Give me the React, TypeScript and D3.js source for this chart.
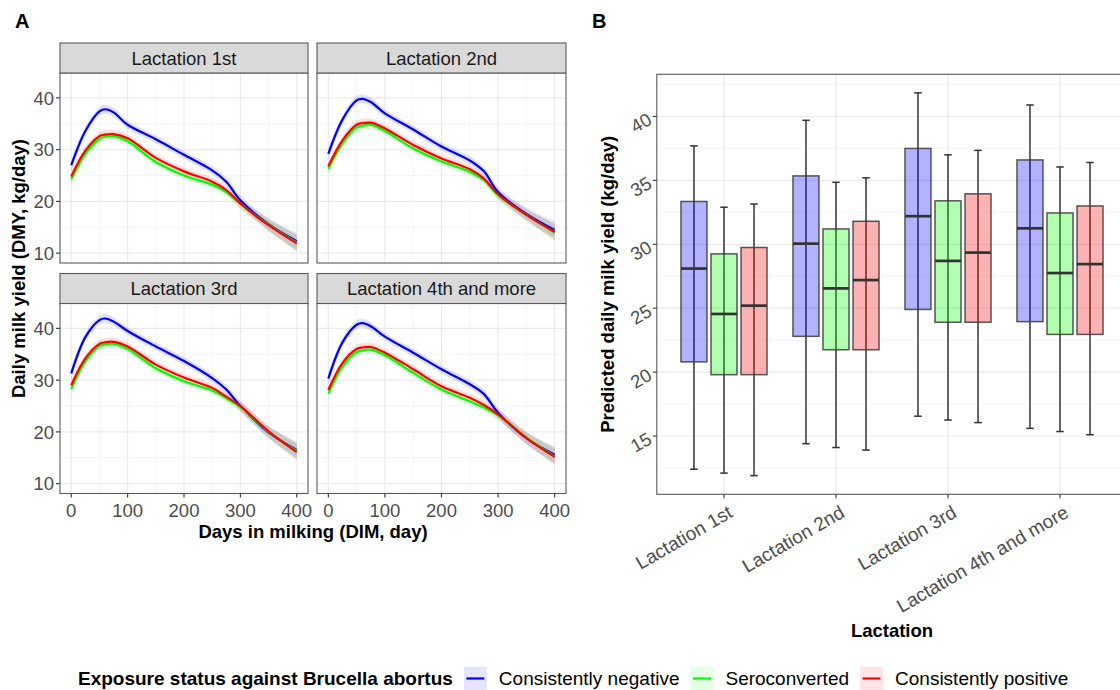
import React, { useEffect, useRef } from "react";
import * as d3 from "d3";

// ---------- DATA ----------
const lactations = ["Lactation 1st", "Lactation 2nd", "Lactation 3rd", "Lactation 4th and more"];
const statuses = ["Consistently negative", "Seroconverted", "Consistently positive"];
const statusColors = ["#0000FF", "#00FF00", "#FF0000"];

// Days in milking at which the fitted curves are read
const dim = [0, 25, 50, 60, 75, 100, 150, 200, 250, 275, 300, 350, 400];
// Half-width of the confidence band (kg/day) at each DIM
const ciHalf = [1.2, 0.9, 0.85, 0.85, 0.85, 0.75, 0.75, 0.75, 0.8, 0.85, 0.95, 1.15, 1.6];

const negL1 = [27.0, 33.6, 37.4, 37.8, 37.2, 34.8, 32.0, 29.0, 26.0, 23.8, 20.2, 15.6, 12.3];
const seroL1 = [24.3, 29.2, 32.1, 32.5, 32.6, 31.6, 27.6, 25.0, 23.2, 21.8, 19.5, 15.5, 12.0];
const posL1 = [24.8, 29.8, 32.6, 32.9, 33.0, 32.2, 28.4, 25.8, 23.8, 22.2, 19.6, 15.4, 11.9];

const negL2 = [29.2, 35.8, 39.5, 39.8, 39.2, 37.0, 33.9, 30.6, 27.9, 25.8, 21.8, 17.6, 14.5];
const seroL2 = [26.3, 31.2, 34.3, 34.6, 34.8, 33.6, 30.2, 27.7, 25.7, 24.1, 21.2, 17.4, 14.0];
const posL2 = [26.8, 31.8, 34.8, 35.1, 35.2, 34.1, 30.9, 28.3, 26.2, 24.4, 21.4, 17.4, 14.1];

const negL3 = [31.3, 38.3, 41.6, 41.9, 41.3, 39.5, 36.5, 33.7, 30.4, 28.2, 25.0, 19.9, 16.5];
const seroL3 = [28.3, 33.6, 36.6, 36.9, 37.0, 36.0, 32.3, 29.8, 28.0, 26.5, 24.8, 20.0, 16.3];
const posL3 = [29.0, 34.2, 37.0, 37.3, 37.4, 36.5, 33.0, 30.5, 28.5, 26.8, 25.0, 20.1, 16.1];

const negL4 = [30.3, 37.3, 40.7, 41.0, 40.4, 38.4, 35.3, 32.1, 29.2, 27.3, 23.7, 18.8, 15.6];
const seroL4 = [27.4, 32.6, 35.4, 35.7, 35.9, 34.8, 31.4, 28.2, 25.9, 24.7, 23.2, 18.9, 15.3];
const posL4 = [28.1, 33.3, 36.0, 36.3, 36.4, 35.3, 32.1, 28.8, 26.6, 25.2, 23.4, 18.8, 15.2];

// Box plot stats per lactation: [min, q1, median, q3, max]
const boxNegative = [
  [12.4, 20.8, 28.1, 33.35, 37.7],
  [14.4, 22.8, 30.05, 35.35, 39.7],
  [16.55, 24.9, 32.2, 37.5, 41.85],
  [15.6, 23.95, 31.25, 36.6, 40.9],
];
const boxSeroconverted = [
  [12.1, 19.8, 24.55, 29.25, 32.9],
  [14.1, 21.75, 26.55, 31.2, 34.85],
  [16.25, 23.9, 28.7, 33.4, 37.0],
  [15.35, 22.95, 27.75, 32.45, 36.05],
];
const boxPositive = [
  [11.9, 19.8, 25.2, 29.75, 33.15],
  [13.9, 21.75, 27.2, 31.8, 35.2],
  [16.05, 23.9, 29.35, 33.95, 37.35],
  [15.1, 22.95, 28.45, 33.0, 36.4],
];

const yTicksA = [10, 20, 30, 40];
const yMinorA = [15, 25, 35];
const xTicksA = [0, 100, 200, 300, 400];
const xMinorA = [50, 150, 250, 350];
const yTicksB = [15, 20, 25, 30, 35, 40];
const yMinorB = [12.5, 17.5, 22.5, 27.5, 32.5, 37.5, 42.5];

const FONT = "'Liberation Sans', Arial, Helvetica, sans-serif";

export default function App() {
  const ref = useRef<SVGSVGElement>(null);

  useEffect(() => {
    const svg = d3.select(ref.current);
    svg.selectAll("*").remove();
    svg.append("rect").attr("width", 1120).attr("height", 690).attr("fill", "#fff");

    const tickCol = "#4D4D4D";
    const gridMajor = "#EBEBEB";
    const gridMinor = "#F3F3F3";
    const borderCol = "#5A5A5A";
    const fs = 18.5;

    // ---------- Panel labels ----------
    svg.append("text").attr("x", 15).attr("y", 28).text("A")
      .attr("font-family", FONT).attr("font-weight", "bold").attr("font-size", 20).attr("fill", "#000");
    svg.append("text").attr("x", 592).attr("y", 28).text("B")
      .attr("font-family", FONT).attr("font-weight", "bold").attr("font-size", 20).attr("fill", "#000");

    // ---------- Panel A ----------
    const facetSeries = [
      [negL1, seroL1, posL1],
      [negL2, seroL2, posL2],
      [negL3, seroL3, posL3],
      [negL4, seroL4, posL4],
    ];
    const cols = [[60, 308], [317, 566]];
    const rows = [43, 273.5];
    const stripH = 30;
    const panelH = 190;

    lactations.forEach((lab, i) => {
      const c = i % 2;
      const r = Math.floor(i / 2);
      const [x0, x1] = cols[c];
      const sy = rows[r];
      const py0 = sy + stripH;
      const py1 = py0 + panelH;
      const x = d3.scaleLinear().domain([-20, 420]).range([x0, x1]);
      const y = d3.scaleLinear().domain([8.1, 44.8]).range([py1, py0]);
      const g = svg.append("g");

      // grid
      g.selectAll(".gxm").data(xMinorA).join("line")
        .attr("x1", d => x(d)).attr("x2", d => x(d)).attr("y1", py0).attr("y2", py1)
        .attr("stroke", gridMinor).attr("stroke-width", 0.8);
      g.selectAll(".gym").data(yMinorA).join("line")
        .attr("x1", x0).attr("x2", x1).attr("y1", d => y(d)).attr("y2", d => y(d))
        .attr("stroke", gridMinor).attr("stroke-width", 0.8);
      g.selectAll(".gx").data(xTicksA).join("line")
        .attr("x1", d => x(d)).attr("x2", d => x(d)).attr("y1", py0).attr("y2", py1)
        .attr("stroke", gridMajor).attr("stroke-width", 1.2);
      g.selectAll(".gy").data(yTicksA).join("line")
        .attr("x1", x0).attr("x2", x1).attr("y1", d => y(d)).attr("y2", d => y(d))
        .attr("stroke", gridMajor).attr("stroke-width", 1.2);

      const clipId = `clipA${i}`;
      svg.append("clipPath").attr("id", clipId).append("rect")
        .attr("x", x0).attr("y", py0).attr("width", x1 - x0).attr("height", panelH);
      const pg = g.append("g").attr("clip-path", `url(#${clipId})`);

      const series = facetSeries[i];
      const curve = d3.curveCatmullRom.alpha(0.5);
      const area = d3.area<number>()
        .x((_, k) => x(dim[k]))
        .curve(curve);
      const line = d3.line<number>()
        .x((_, k) => x(dim[k]))
        .y(d => y(d))
        .curve(curve);

      series.forEach((vals, s) => {
        pg.append("path")
          .attr("d", area.y0((d, k) => y(d - ciHalf[k])).y1((d, k) => y(d + ciHalf[k]))(vals))
          .attr("fill", statusColors[s]).attr("fill-opacity", 0.12);
      });
      series.forEach((vals, s) => {
        pg.append("path").attr("d", line(vals))
          .attr("fill", "none").attr("stroke", statusColors[s]).attr("stroke-width", 2.2);
      });

      // border
      g.append("rect").attr("x", x0).attr("y", py0).attr("width", x1 - x0).attr("height", panelH)
        .attr("fill", "none").attr("stroke", borderCol).attr("stroke-width", 1.1);
      // strip
      g.append("rect").attr("x", x0).attr("y", sy).attr("width", x1 - x0).attr("height", stripH)
        .attr("fill", "#D9D9D9").attr("stroke", borderCol).attr("stroke-width", 1.1);
      g.append("text").attr("x", (x0 + x1) / 2).attr("y", sy + stripH / 2).attr("dy", "0.36em")
        .attr("text-anchor", "middle").attr("font-family", FONT).attr("font-size", fs)
        .attr("fill", "#1A1A1A").text(lab);

      // axes
      if (c === 0) {
        g.selectAll(".ty").data(yTicksA).join("line")
          .attr("x1", x0 - 4).attr("x2", x0).attr("y1", d => y(d)).attr("y2", d => y(d))
          .attr("stroke", "#333").attr("stroke-width", 1.1);
        g.selectAll(".tyl").data(yTicksA).join("text")
          .attr("x", x0 - 6).attr("y", d => y(d)).attr("dy", "0.36em").attr("text-anchor", "end")
          .attr("font-family", FONT).attr("font-size", fs).attr("fill", tickCol).text(d => String(d));
      }
      if (r === 1) {
        g.selectAll(".tx").data(xTicksA).join("line")
          .attr("x1", d => x(d)).attr("x2", d => x(d)).attr("y1", py1).attr("y2", py1 + 4)
          .attr("stroke", "#333").attr("stroke-width", 1.1);
        g.selectAll(".txl").data(xTicksA).join("text")
          .attr("x", d => x(d)).attr("y", py1 + 23).attr("text-anchor", "middle")
          .attr("font-family", FONT).attr("font-size", fs).attr("fill", tickCol).text(d => String(d));
      }
    });

    // axis titles panel A
    svg.append("text").attr("transform", `translate(25, 268.5) rotate(-90)`)
      .attr("text-anchor", "middle").attr("font-family", FONT).attr("font-weight", "bold")
      .attr("font-size", fs).attr("fill", "#000").text("Daily milk yield (DMY, kg/day)");
    svg.append("text").attr("x", 313).attr("y", 538)
      .attr("text-anchor", "middle").attr("font-family", FONT).attr("font-weight", "bold")
      .attr("font-size", fs).attr("fill", "#000").text("Days in milking (DIM, day)");

    // ---------- Panel B ----------
    const bx0 = 656.8, bx1 = 1127.2, by0 = 74.3, by1 = 494.3;
    const xB = d3.scalePoint<string>().domain(lactations).range([bx0, bx1]).padding(0.6);
    const yB = d3.scaleLinear().domain([10.44, 43.3]).range([by1, by0]);
    const step = xB.step();
    const dodge = step * 0.268;
    const boxW = step * 0.232;
    const capW = 7.5;
    const gB = svg.append("g");

    gB.selectAll(".bym").data(yMinorB).join("line")
      .attr("x1", bx0).attr("x2", bx1).attr("y1", d => yB(d)).attr("y2", d => yB(d))
      .attr("stroke", gridMinor).attr("stroke-width", 0.8);
    gB.selectAll(".by").data(yTicksB).join("line")
      .attr("x1", bx0).attr("x2", bx1).attr("y1", d => yB(d)).attr("y2", d => yB(d))
      .attr("stroke", gridMajor).attr("stroke-width", 1.2);
    gB.selectAll(".bx").data(lactations).join("line")
      .attr("x1", d => xB(d)!).attr("x2", d => xB(d)!).attr("y1", by0).attr("y2", by1)
      .attr("stroke", gridMajor).attr("stroke-width", 1.2);

    const boxSets = [boxNegative, boxSeroconverted, boxPositive];
    lactations.forEach((lab, li) => {
      boxSets.forEach((set, s) => {
        const [mn, q1, md, q3, mx] = set[li];
        const cx = xB(lab)! + (s - 1) * dodge;
        // whisker (drawn under the translucent box)
        gB.append("line").attr("x1", cx).attr("x2", cx).attr("y1", yB(mn)).attr("y2", yB(mx))
          .attr("stroke", "#333").attr("stroke-width", 1.5);
        gB.append("line").attr("x1", cx - capW / 2).attr("x2", cx + capW / 2)
          .attr("y1", yB(mx)).attr("y2", yB(mx)).attr("stroke", "#333").attr("stroke-width", 1.5);
        gB.append("line").attr("x1", cx - capW / 2).attr("x2", cx + capW / 2)
          .attr("y1", yB(mn)).attr("y2", yB(mn)).attr("stroke", "#333").attr("stroke-width", 1.5);
        gB.append("rect").attr("x", cx - boxW / 2).attr("y", yB(q3))
          .attr("width", boxW).attr("height", yB(q1) - yB(q3))
          .attr("fill", statusColors[s]).attr("fill-opacity", 0.3)
          .attr("stroke", "#3A3A3A").attr("stroke-opacity", 0.85).attr("stroke-width", 1.5);
        gB.append("line").attr("x1", cx - boxW / 2).attr("x2", cx + boxW / 2)
          .attr("y1", yB(md)).attr("y2", yB(md)).attr("stroke", "#333").attr("stroke-width", 2.7);
      });
    });

    gB.append("rect").attr("x", bx0).attr("y", by0).attr("width", bx1 - bx0).attr("height", by1 - by0)
      .attr("fill", "none").attr("stroke", borderCol).attr("stroke-width", 1.1);

    // y ticks B
    gB.selectAll(".tby").data(yTicksB).join("line")
      .attr("x1", bx0 - 4).attr("x2", bx0).attr("y1", d => yB(d)).attr("y2", d => yB(d))
      .attr("stroke", "#333").attr("stroke-width", 1.1);
    gB.selectAll(".tbyl").data(yTicksB).join("text")
      .attr("transform", d => `translate(${bx0 - 7}, ${yB(d) + 1}) rotate(-30)`)
      .attr("dy", "0.36em").attr("text-anchor", "end")
      .attr("font-family", FONT).attr("font-size", fs).attr("fill", tickCol).text(d => String(d));
    // x ticks B
    gB.selectAll(".tbx").data(lactations).join("line")
      .attr("x1", d => xB(d)!).attr("x2", d => xB(d)!).attr("y1", by1).attr("y2", by1 + 4)
      .attr("stroke", "#333").attr("stroke-width", 1.1);
    gB.selectAll(".tbxl").data(lactations).join("text")
      .attr("transform", d => `translate(${xB(d)! + 3}, ${by1 + 10}) rotate(-30)`)
      .attr("dy", "0.72em").attr("text-anchor", "end")
      .attr("font-family", FONT).attr("font-size", 19).attr("fill", tickCol).text(d => d);

    svg.append("text").attr("transform", `translate(614, ${(by0 + by1) / 2}) rotate(-90)`)
      .attr("text-anchor", "middle").attr("font-family", FONT).attr("font-weight", "bold")
      .attr("font-size", fs).attr("fill", "#000").text("Predicted daily milk yield (kg/day)");
    svg.append("text").attr("x", (bx0 + bx1) / 2).attr("y", 637)
      .attr("text-anchor", "middle").attr("font-family", FONT).attr("font-weight", "bold")
      .attr("font-size", fs).attr("fill", "#000").text("Lactation");

    // ---------- Legend ----------
    const lg = svg.append("g");
    const baseY = 685;
    const title = lg.append("text").attr("x", 78).attr("y", baseY)
      .attr("font-family", FONT).attr("font-weight", "bold").attr("font-size", 19)
      .attr("fill", "#000").text("Exposure status against Brucella abortus");
    let cur = 78 + (title.node() as SVGTextElement).getComputedTextLength() + 11;
    statuses.forEach((st, s) => {
      const keyX = cur;
      lg.append("rect").attr("x", keyX).attr("y", 667).attr("width", 23).attr("height", 23)
        .attr("fill", statusColors[s]).attr("fill-opacity", 0.1);
      lg.append("line").attr("x1", keyX + 2.5).attr("x2", keyX + 20.5).attr("y1", 678.5).attr("y2", 678.5)
        .attr("stroke", statusColors[s]).attr("stroke-width", 2.2);
      const t = lg.append("text").attr("x", keyX + 23 + 12).attr("y", baseY)
        .attr("font-family", FONT).attr("font-size", 19).attr("fill", "#000").text(st);
      cur = keyX + 35 + (t.node() as SVGTextElement).getComputedTextLength() + 11;
    });
  }, []);

  return (
    <svg
      ref={ref}
      width={1120}
      height={690}
      style={{ position: "absolute", left: 0, top: 0, display: "block" }}
    />
  );
}
